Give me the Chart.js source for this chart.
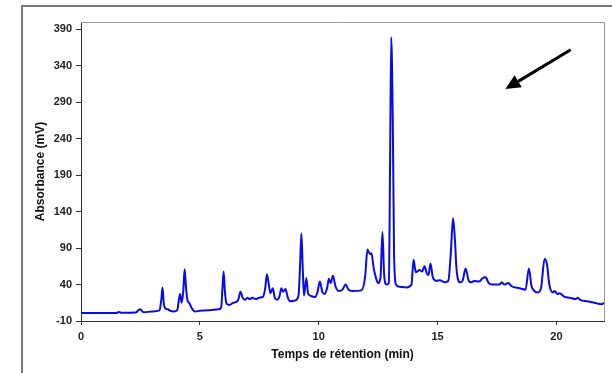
<!DOCTYPE html>
<html>
<head>
<meta charset="utf-8">
<script src="https://cdn.jsdelivr.net/npm/chart.js@4"></script>
<style>
  html, body { margin: 0; padding: 0; background: #fff; overflow: hidden; }
  #frame { position: absolute; left: 21px; top: 5px; width: 620px; height: 420px;
           border: 2px solid #7a7a7a; box-sizing: border-box; }
  #wrap  { position: absolute; left: 0; top: 0; width: 612px; height: 373px; }
</style>
</head>
<body>
<div id="frame"></div>
<div id="wrap"><canvas id="chrom" width="612" height="373"></canvas></div>
<script>
// ── Data ────────────────────────────────────────────────────────────────────
const retTime = [
  0, 1.0, 1.5, 1.6, 1.7, 2.3, 2.42, 2.5, 2.58, 2.65, 3.0, 3.3, 3.38, 3.43, 3.48, 3.55, 3.65, 3.75, 3.9,
  4.05, 4.12, 4.17, 4.23, 4.3, 4.36, 4.42, 4.48, 4.55, 4.65, 4.8, 5.0, 5.5, 5.8, 5.9, 5.95, 6.0, 6.05,
  6.12, 6.25, 6.4, 6.6, 6.71, 6.8, 6.9, 7.0, 7.1, 7.2, 7.35, 7.5, 7.65, 7.75, 7.82, 7.9, 7.97, 8.07,
  8.15, 8.25, 8.35, 8.43, 8.5, 8.6, 8.7, 8.8, 9.0, 9.15, 9.22, 9.27, 9.33, 9.38, 9.48, 9.55, 9.7, 9.85,
  9.95, 10.05, 10.15, 10.25, 10.35, 10.43, 10.5, 10.6, 10.7, 10.85, 11.0, 11.13, 11.25, 11.4, 11.8,
  11.95, 12.05, 12.15, 12.22, 12.3, 12.4, 12.5, 12.6, 12.68, 12.75, 12.85, 12.95, 13.0, 13.05, 13.12,
  13.17, 13.25, 13.4, 13.7, 13.9, 13.99, 14.08, 14.15, 14.24, 14.35, 14.45, 14.55, 14.62, 14.7, 14.8,
  14.95, 15.1, 15.3, 15.45, 15.55, 15.65, 15.73, 15.8, 15.95, 16.05, 16.18, 16.3, 16.4, 16.55, 16.75,
  16.9, 17.02, 17.15, 17.3, 17.6, 17.7, 17.8, 17.98, 18.1, 18.45, 18.7, 18.84, 18.95, 19.05, 19.2,
  19.35, 19.5, 19.6, 19.7, 19.85, 19.92, 20.05, 20.13, 20.35, 20.55, 20.8, 20.9, 21.0, 21.3, 21.6,
  21.9, 22.0
];
const absorbance = [
  1, 1, 1, 2.5, 1.2, 1.5, 5, 6, 3, 2, 3, 4.5, 20, 36, 15, 7, 6, 4, 3,
  5, 20, 27, 15, 30, 61, 35, 18, 15, 8, 3, 4, 5, 6, 9, 35, 58, 32,
  14, 12, 15, 18, 30, 22, 19, 22, 20, 22, 20, 22, 23, 35, 54, 40, 28, 35,
  22, 19, 24, 35, 30, 34, 22, 17, 18, 25, 70, 110, 60, 25, 49, 28, 24, 23,
  30, 44, 30, 27, 35, 48, 42, 52, 38, 31, 33, 40, 33, 31, 32,
  50, 88, 82, 83, 65, 50, 42, 50, 112, 55, 40, 42, 200, 379, 250,
  80, 40, 37, 36, 40, 74, 57, 58, 60, 58, 65, 55, 53, 69, 50,
  45, 46, 43, 45, 80, 131, 101, 60, 43, 45, 62, 46, 43, 45, 44,
  49, 50, 42, 40, 40, 43, 40, 42, 38, 35, 33, 62, 38, 32, 29,
  35, 75, 68, 40, 29, 31, 27, 28, 23, 22, 20, 22, 19, 17, 15,
  13, 15
];

const xTicks = [0, 5, 10, 15, 20];
const yTicks = [-10, 40, 90, 140, 190, 240, 290, 340, 390];

// arrow annotation, in data units: [time, mV] tail → head
const arrowTail = [20.6, 362];
const arrowHead = [17.85, 308];

// ── Plugins ─────────────────────────────────────────────────────────────────
const frameBox = {
  id: 'frameBox',
  afterDraw(chart) {
    const { ctx, chartArea: a } = chart;
    ctx.save();
    ctx.strokeStyle = '#9a9a9a';
    ctx.lineWidth = 1;
    ctx.beginPath();
    ctx.moveTo(a.left, a.top + 0.5);
    ctx.lineTo(a.right + 0.5, a.top + 0.5);
    ctx.lineTo(a.right + 0.5, a.bottom);
    ctx.stroke();
    ctx.restore();
  }
};

const arrow = {
  id: 'arrow',
  afterDraw(chart) {
    const { ctx, scales: { x, y } } = chart;
    const x1 = x.getPixelForValue(arrowTail[0]), y1 = y.getPixelForValue(arrowTail[1]);
    const x2 = x.getPixelForValue(arrowHead[0]), y2 = y.getPixelForValue(arrowHead[1]);
    const ang = Math.atan2(y2 - y1, x2 - x1);
    const len = 15, half = 7;
    const bx = x2 - len * Math.cos(ang), by = y2 - len * Math.sin(ang);
    ctx.save();
    ctx.strokeStyle = '#000';
    ctx.fillStyle = '#000';
    ctx.lineWidth = 3;
    ctx.beginPath();
    ctx.moveTo(x1, y1);
    ctx.lineTo(bx, by);
    ctx.stroke();
    ctx.beginPath();
    ctx.moveTo(x2, y2);
    ctx.lineTo(bx + half * Math.sin(ang), by - half * Math.cos(ang));
    ctx.lineTo(bx - half * Math.sin(ang), by + half * Math.cos(ang));
    ctx.closePath();
    ctx.fill();
    ctx.restore();
  }
};

// ── Chart ───────────────────────────────────────────────────────────────────
const tickFont  = { family: 'Liberation Sans', size: 11, weight: 'bold' };
const titleFont = { family: 'Liberation Sans', size: 12, weight: 'bold' };

new Chart(document.getElementById('chrom'), {
  type: 'line',
  data: {
    datasets: [{
      data: retTime.map((t, i) => ({ x: t, y: absorbance[i] })),
      borderColor: '#0a0ae8',
      borderWidth: 2,
      pointRadius: 0,
      cubicInterpolationMode: 'monotone',
      fill: false
    }]
  },
  options: {
    responsive: false,
    animation: false,
    layout: { padding: { left: 0, top: 22, right: 8, bottom: 0 } },
    plugins: { legend: { display: false }, tooltip: { enabled: false } },
    scales: {
      x: {
        type: 'linear', min: 0, max: 22,
        afterBuildTicks: s => { s.ticks = xTicks.map(v => ({ value: v })); },
        afterFit: s => { s.height = 52; },
        grid: { drawOnChartArea: false, drawTicks: true, tickLength: 4, color: '#333' },
        border: { color: '#333', width: 1 },
        ticks: { color: '#222', font: tickFont, padding: 5, maxRotation: 0 },
        title: { display: true, text: 'Temps de rétention (min)', color: '#111',
                 font: titleFont, padding: { top: 0, bottom: 11 } }
      },
      y: {
        min: -10, max: 400,
        afterBuildTicks: s => { s.ticks = yTicks.map(v => ({ value: v })); },
        afterFit: s => { s.width = 81; },
        grid: { drawOnChartArea: false, drawTicks: true, tickLength: 5, color: '#333' },
        border: { color: '#333', width: 1 },
        ticks: { color: '#222', font: tickFont, padding: 4 },
        title: { display: true, text: 'Absorbance (mV)', color: '#111',
                 font: titleFont, padding: { top: 33, bottom: 0 } }
      }
    }
  },
  plugins: [frameBox, arrow]
});
</script>
</body>
</html>
